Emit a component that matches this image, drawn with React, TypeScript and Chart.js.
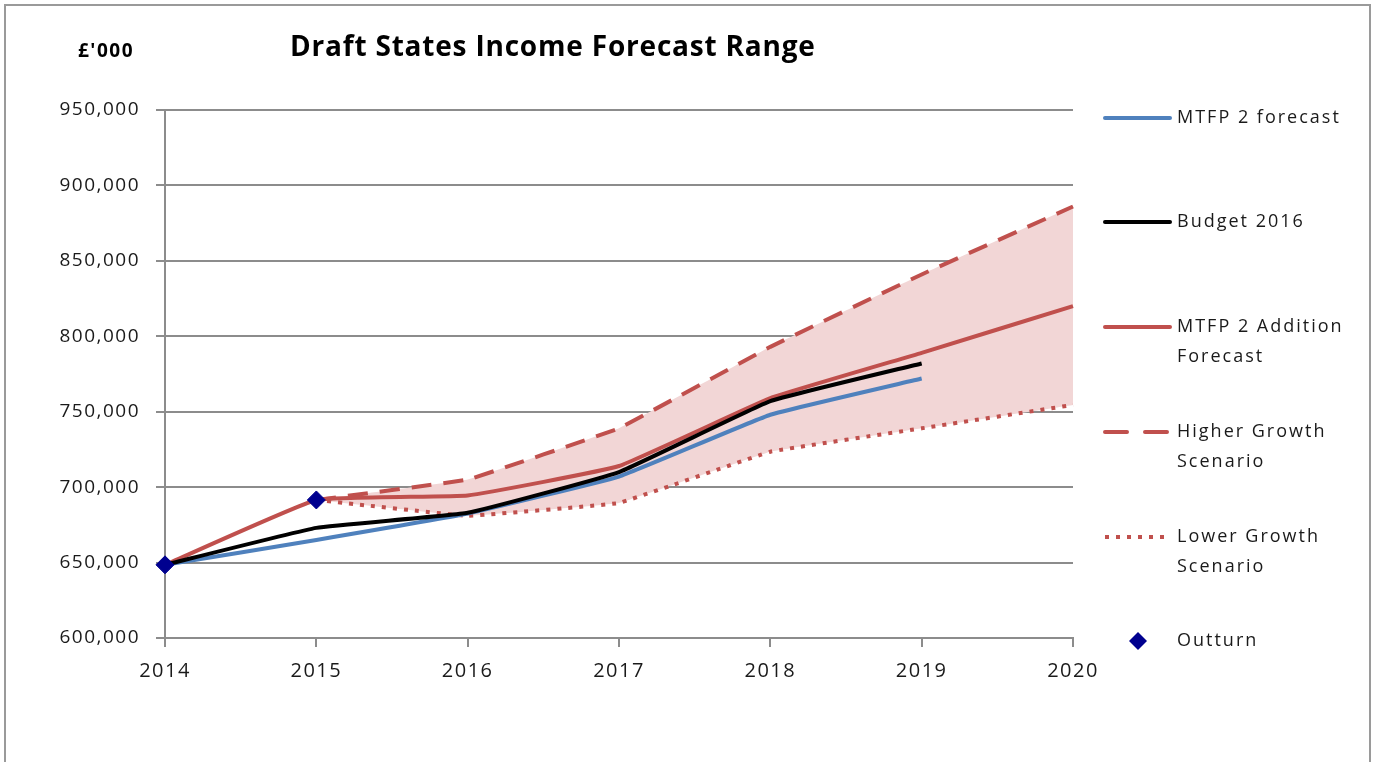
import React, { useEffect, useRef } from "react";
import { Chart, registerables } from "chart.js";

Chart.register(...registerables);

const years = ["2014", "2015", "2016", "2017", "2018", "2019", "2020"];
const mtfp2Forecast = [648500, 665000, 682500, 707000, 748000, 772000, null];
const budget2016 = [648500, 673000, 683000, 710000, 757000, 782000, null];
const mtfp2Addition = [648500, 691500, 694500, 714000, 759000, 789000, 820000];
const higherGrowth = [null, 691500, 705000, 739000, 793000, 841000, 886000];
const lowerGrowth = [null, 691500, 681000, 689500, 723500, 739000, 754500];
const outturn = [648500, 691500, null, null, null, null, null];

const TITLE = "Draft States Income Forecast Range";
const UNIT = "£'000";

const BLUE = "#4f81bd";
const RED = "#c0504d";
const NAVY = "#00008f";
const FILL = "#f2d6d6";
const FONT = "'Open Sans', sans-serif";

const legendItems = [
  { lines: ["MTFP 2 forecast"], kind: "line", color: BLUE, dash: [] as number[], y: 118 },
  { lines: ["Budget 2016"], kind: "line", color: "#000", dash: [] as number[], y: 222 },
  { lines: ["MTFP 2 Addition", "Forecast"], kind: "line", color: RED, dash: [] as number[], y: 327 },
  { lines: ["Higher Growth", "Scenario"], kind: "line", color: RED, dash: [22, 18], y: 432 },
  { lines: ["Lower Growth", "Scenario"], kind: "line", color: RED, dash: [4, 7], y: 537 },
  { lines: ["Outturn"], kind: "diamond", color: NAVY, dash: [] as number[], y: 641 },
];

const decorPlugin = {
  id: "decor",
  beforeDraw(chart: any) {
    const ctx = chart.ctx;
    ctx.save();
    ctx.fillStyle = "#fff";
    ctx.fillRect(0, 0, chart.width, chart.height);
    ctx.strokeStyle = "#9a9a9a";
    ctx.lineWidth = 2;
    ctx.strokeRect(5, 5, 1365, 800);
    ctx.restore();
    (ctx as any).letterSpacing = "1.5px";
  },
  afterDraw(chart: any) {
    const ctx = chart.ctx;
    ctx.save();
    ctx.fillStyle = "#000";
    ctx.textBaseline = "middle";
    ctx.textAlign = "left";
    (ctx as any).letterSpacing = "0.8px";
    ctx.font = `bold 28px ${FONT}`;
    ctx.fillText(TITLE, 290, 48);
    (ctx as any).letterSpacing = "1.5px";
    ctx.font = `bold 19px ${FONT}`;
    ctx.fillText(UNIT, 78, 52);

    (ctx as any).letterSpacing = "2px";
    ctx.font = `18px ${FONT}`;
    ctx.fillStyle = "#1a1a1a";
    for (const it of legendItems) {
      if (it.kind === "line") {
        ctx.save();
        ctx.strokeStyle = it.color;
        ctx.lineWidth = 4;
        ctx.lineCap = it.dash.length && it.dash[0] < 10 ? "butt" : "round";
        ctx.setLineDash(it.dash);
        ctx.beginPath();
        ctx.moveTo(1105, it.y);
        ctx.lineTo(1170, it.y);
        ctx.stroke();
        ctx.restore();
      } else {
        ctx.save();
        ctx.fillStyle = it.color;
        ctx.beginPath();
        ctx.moveTo(1138, it.y - 9);
        ctx.lineTo(1147, it.y);
        ctx.lineTo(1138, it.y + 9);
        ctx.lineTo(1129, it.y);
        ctx.closePath();
        ctx.fill();
        ctx.restore();
      }
      it.lines.forEach((t, i) => {
        ctx.fillText(t, 1177, it.y + i * 30);
      });
    }
    ctx.restore();
    (ctx as any).letterSpacing = "0px";
  },
};

export default function App() {
  const ref = useRef<HTMLCanvasElement | null>(null);

  useEffect(() => {
    document.body.style.margin = "0";
    const canvas = ref.current;
    if (!canvas) return;
    const chart = new Chart(canvas, {
      type: "line",
      data: {
        labels: years,
        datasets: [
          {
            label: "MTFP 2 forecast",
            data: mtfp2Forecast,
            borderColor: BLUE,
            borderWidth: 4,
            pointRadius: 0,
            tension: 0.1,
            fill: false,
            order: 3,
          },
          {
            label: "Budget 2016",
            data: budget2016,
            borderColor: "#000",
            borderWidth: 4,
            pointRadius: 0,
            tension: 0.1,
            fill: false,
            order: 1,
          },
          {
            label: "MTFP 2 Addition Forecast",
            data: mtfp2Addition,
            borderColor: RED,
            borderWidth: 4,
            pointRadius: 0,
            tension: 0.1,
            fill: false,
            order: 2,
          },
          {
            label: "Higher Growth Scenario",
            data: higherGrowth,
            borderColor: RED,
            borderWidth: 4,
            borderDash: [20, 12],
            pointRadius: 0,
            tension: 0.05,
            fill: "+1",
            backgroundColor: FILL,
            order: 5,
          },
          {
            label: "Lower Growth Scenario",
            data: lowerGrowth,
            borderColor: RED,
            borderWidth: 4,
            borderDash: [4, 7],
            pointRadius: 0,
            tension: 0.05,
            fill: false,
            order: 4,
          },
          {
            label: "Outturn",
            data: outturn,
            showLine: false,
            pointStyle: "rectRot",
            pointRadius: 9,
            pointBackgroundColor: NAVY,
            pointBorderColor: NAVY,
            pointBorderWidth: 1,
            fill: false,
            order: 0,
          },
        ],
      },
      options: {
        responsive: false,
        animation: false,
        events: [],
        layout: { padding: { left: 0, right: 305, top: 110, bottom: 0 } },
        plugins: {
          legend: { display: false },
          title: { display: false },
          tooltip: { enabled: false },
        },
        scales: {
          x: {
            offset: false,
            grid: {
              display: true,
              drawOnChartArea: false,
              drawTicks: true,
              tickLength: 9,
              color: "#8c8c8c",
              lineWidth: 2,
            },
            border: { display: true, color: "#8c8c8c", width: 2 },
            ticks: {
              color: "#1a1a1a",
              font: { family: FONT, size: 20 },
              padding: 12,
              maxRotation: 0,
              autoSkip: false,
            },
            afterFit(scale: any) {
              scale.height = 124;
            },
          },
          y: {
            min: 600000,
            max: 950000,
            grid: {
              color: "#8c8c8c",
              lineWidth: 2,
              drawTicks: true,
              tickLength: 9,
            },
            border: { display: true, color: "#8c8c8c", width: 2 },
            ticks: {
              stepSize: 50000,
              color: "#1a1a1a",
              font: { family: FONT, size: 19 },
              padding: 16,
              callback: (v: any) => Number(v).toLocaleString("en-US"),
            },
            afterFit(scale: any) {
              scale.width = 165;
            },
          },
        },
      },
      plugins: [decorPlugin],
    });
    return () => chart.destroy();
  }, []);

  return (
    <div style={{ position: "fixed", left: 0, top: 0, width: 1378, height: 762 }}>
      <canvas ref={ref} width={1378} height={762} style={{ display: "block" }} />
    </div>
  );
}
